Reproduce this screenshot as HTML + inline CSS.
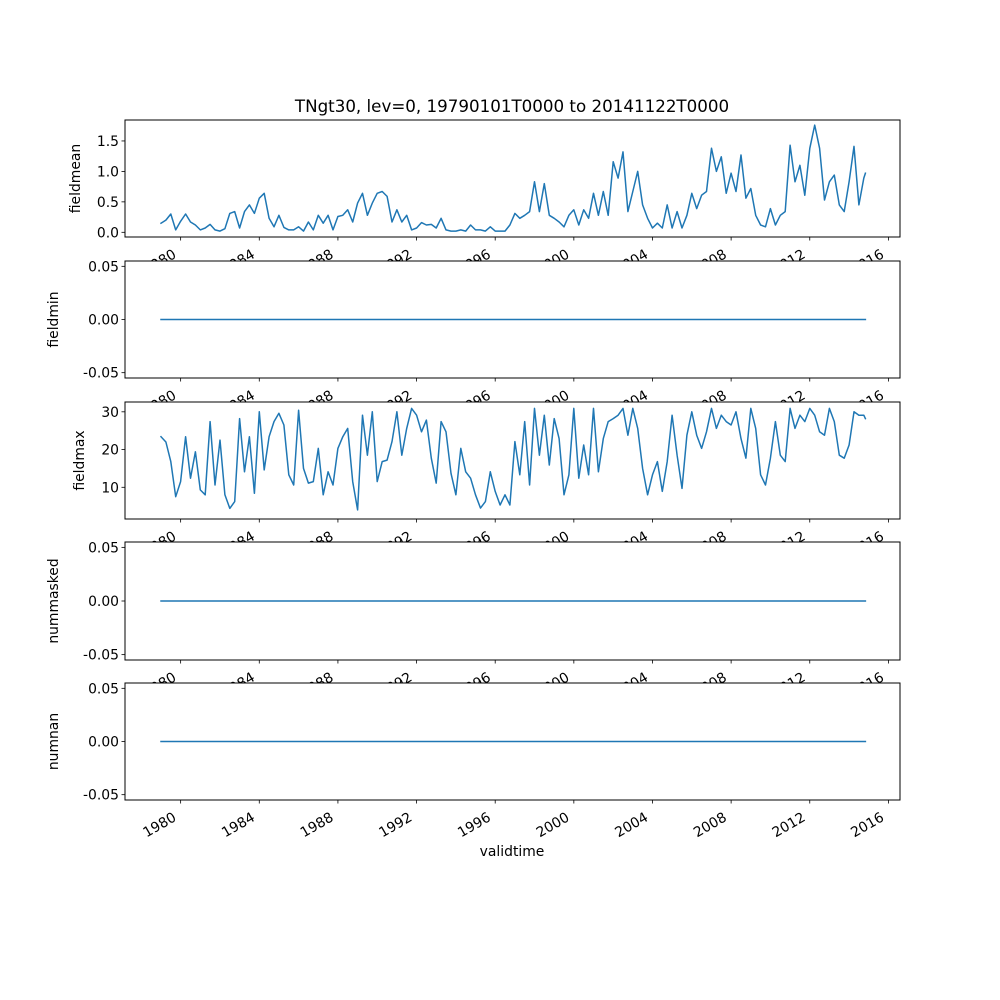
<!DOCTYPE html>
<html><head><meta charset="utf-8"><style>
html,body{margin:0;padding:0;background:#fff;}
svg{display:block;font-family:"DejaVu Sans","Liberation Sans",sans-serif;}
</style></head><body>
<svg id="fig" width="1000" height="1000" viewBox="0 0 1000 1000"></svg>
<script>
const years = [];
for (let i = 0; i < 144; i++) years.push(1979 + i * 0.25);
years.push(2014.83);
const fieldmean = [0.15,0.2,0.3,0.04,0.18,0.3,0.17,0.12,0.04,0.07,0.13,0.04,0.02,0.06,0.31,0.34,0.07,0.34,0.45,0.31,0.56,0.64,0.23,0.09,0.28,0.08,0.04,0.04,0.09,0.02,0.17,0.04,0.28,0.15,0.28,0.04,0.26,0.28,0.37,0.17,0.48,0.64,0.28,0.48,0.64,0.67,0.59,0.17,0.37,0.17,0.28,0.04,0.07,0.16,0.12,0.13,0.07,0.23,0.04,0.02,0.02,0.04,0.02,0.12,0.04,0.04,0.02,0.09,0.02,0.02,0.02,0.12,0.31,0.23,0.28,0.34,0.83,0.34,0.8,0.28,0.23,0.17,0.09,0.28,0.37,0.12,0.37,0.23,0.64,0.28,0.67,0.28,1.16,0.89,1.32,0.34,0.67,1.0,0.45,0.23,0.07,0.15,0.07,0.45,0.07,0.34,0.07,0.28,0.64,0.39,0.61,0.67,1.38,1.0,1.24,0.64,0.97,0.67,1.27,0.56,0.72,0.28,0.12,0.09,0.39,0.12,0.28,0.34,1.43,0.83,1.1,0.61,1.38,1.76,1.38,0.53,0.83,0.94,0.45,0.34,0.83,1.41,0.45,0.89,0.97];
const fieldmax = [23.4,22,16.8,7.5,11.5,23.4,12.4,19.4,9.3,8,27.4,10.6,22.5,8,4.4,6.2,28.2,14.1,23.4,8.4,30,14.6,23.4,27.4,29.6,26.5,13.3,10.6,30.4,15,11.1,11.5,20.3,8,14.1,10.6,20.3,23.4,25.6,11.5,4,29.1,18.5,30,11.5,16.8,17.2,22.1,30,18.5,25.6,30.9,29.1,24.7,27.8,17.7,11.1,27.4,24.7,13.7,8,20.3,14.1,12.4,8,4.5,6.2,14.1,8.9,5.3,8,5.3,22.1,13.3,27.4,10.6,30.9,18.5,29.1,15.9,28.2,22.9,8,13.3,30.9,12.4,21.2,13.3,30.9,14.1,22.9,27.4,28.2,29.1,30.9,23.8,30.9,25.6,15,8,13.3,16.8,8.9,16.8,29.1,18.5,9.7,23.8,30,23.8,20.3,24.7,30.9,25.6,29.1,27.4,26.5,30,22.9,17.7,30.9,25.6,13.3,10.6,17.7,27.4,18.5,16.8,30.9,25.6,29.1,27.4,30.9,29.1,24.7,23.8,30.9,27.4,18.5,17.7,21.2,30,29.1,29.1,28.2];
const fieldmin = years.map(() => 0);
const nummasked = years.map(() => 0);
const numnan = years.map(() => 0);
const xTicks = [1980,1984,1988,1992,1996,2000,2004,2008,2012,2016];

const NS = "http://www.w3.org/2000/svg";
const svg = document.getElementById("fig");
const L = 125, R = 900, X0 = 1977.17, X1 = 2016.59;
const xs = v => L + (v - X0) / (X1 - X0) * (R - L);
function mk(tag, attrs, parent) {
  const e = document.createElementNS(NS, tag);
  for (const k in attrs) e.setAttribute(k, attrs[k]);
  (parent || svg).appendChild(e);
  return e;
}
const panels = [
  {name:"fieldmean", data:fieldmean, top:120, bot:237, ymin:-0.077, ymax:1.844, ticks:[0,0.5,1.0,1.5], fmt:v=>v.toFixed(1), lx:80},
  {name:"fieldmin", data:fieldmin, top:261, bot:378, ymin:-0.055, ymax:0.055, ticks:[-0.05,0,0.05], fmt:v=>v.toFixed(2), lx:58},
  {name:"fieldmax", data:fieldmax, top:402, bot:519, ymin:1.6, ymax:32.6, ticks:[10,20,30], fmt:v=>String(v), lx:84},
  {name:"nummasked", data:nummasked, top:542, bot:660, ymin:-0.055, ymax:0.055, ticks:[-0.05,0,0.05], fmt:v=>v.toFixed(2), lx:58},
  {name:"numnan", data:numnan, top:683, bot:800, ymin:-0.055, ymax:0.055, ticks:[-0.05,0,0.05], fmt:v=>v.toFixed(2), lx:58}
];
panels.forEach((p, idx) => {
  const g = mk("g", {});
  
  
  const ys = v => p.bot - (v - p.ymin) / (p.ymax - p.ymin) * (p.bot - p.top);
  const bg = mk("rect", {x:L, y:p.top, width:R-L, height:p.bot-p.top, fill:"#fff"}, g);
  
  
  let d = "";
  years.forEach((y, i) => { d += (i ? "L" : "M") + xs(y).toFixed(1) + "," + ys(p.data[i]).toFixed(1); });
  const line = mk("path", {d:d, fill:"none", stroke:"#1f77b4", "stroke-width":1.5, "stroke-linejoin":"round", "stroke-linecap":"square"}, g);
  
  
  const fr = mk("rect", {x:L, y:p.top, width:R-L, height:p.bot-p.top, fill:"none", stroke:"#000", "stroke-width":1}, g);
  
  
  p.ticks.forEach(t => {
    const y = ys(t);
    mk("line", {x1:L-3.5, x2:L, y1:y, y2:y, stroke:"#000", "stroke-width":0.8}, g);
    const tx = mk("text", {x:L-6, y:y+5, "font-size":13.9, "text-anchor":"end", fill:"#000"}, g);
    tx.textContent = p.fmt(t);
    
    
  });
  const yl = mk("text", {x:p.lx, y:(p.top+p.bot)/2, "font-size":13.9, "text-anchor":"middle", transform:`rotate(-90 ${p.lx} ${(p.top+p.bot)/2})`}, g);
  yl.textContent = p.name;
  
  
  xTicks.forEach(t => {
    const x = xs(t);
    mk("line", {x1:x, x2:x, y1:p.bot, y2:p.bot+3.5, stroke:"#000", "stroke-width":0.8}, g);
    const tx = mk("text", {x:0, y:0, "font-size":13.9, "text-anchor":"end", transform:`translate(${x-3.5} ${p.bot+20}) rotate(-30)`}, g);
    tx.textContent = String(t);
    
    
  });
});
const title = mk("text", {x:512, y:112, "font-size":16.7, "text-anchor":"middle"});
title.textContent = "TNgt30, lev=0, 19790101T0000 to 20141122T0000";


const xl = mk("text", {x:512, y:856, "font-size":13.9, "text-anchor":"middle"});
xl.textContent = "validtime";


</script>
</body></html>
